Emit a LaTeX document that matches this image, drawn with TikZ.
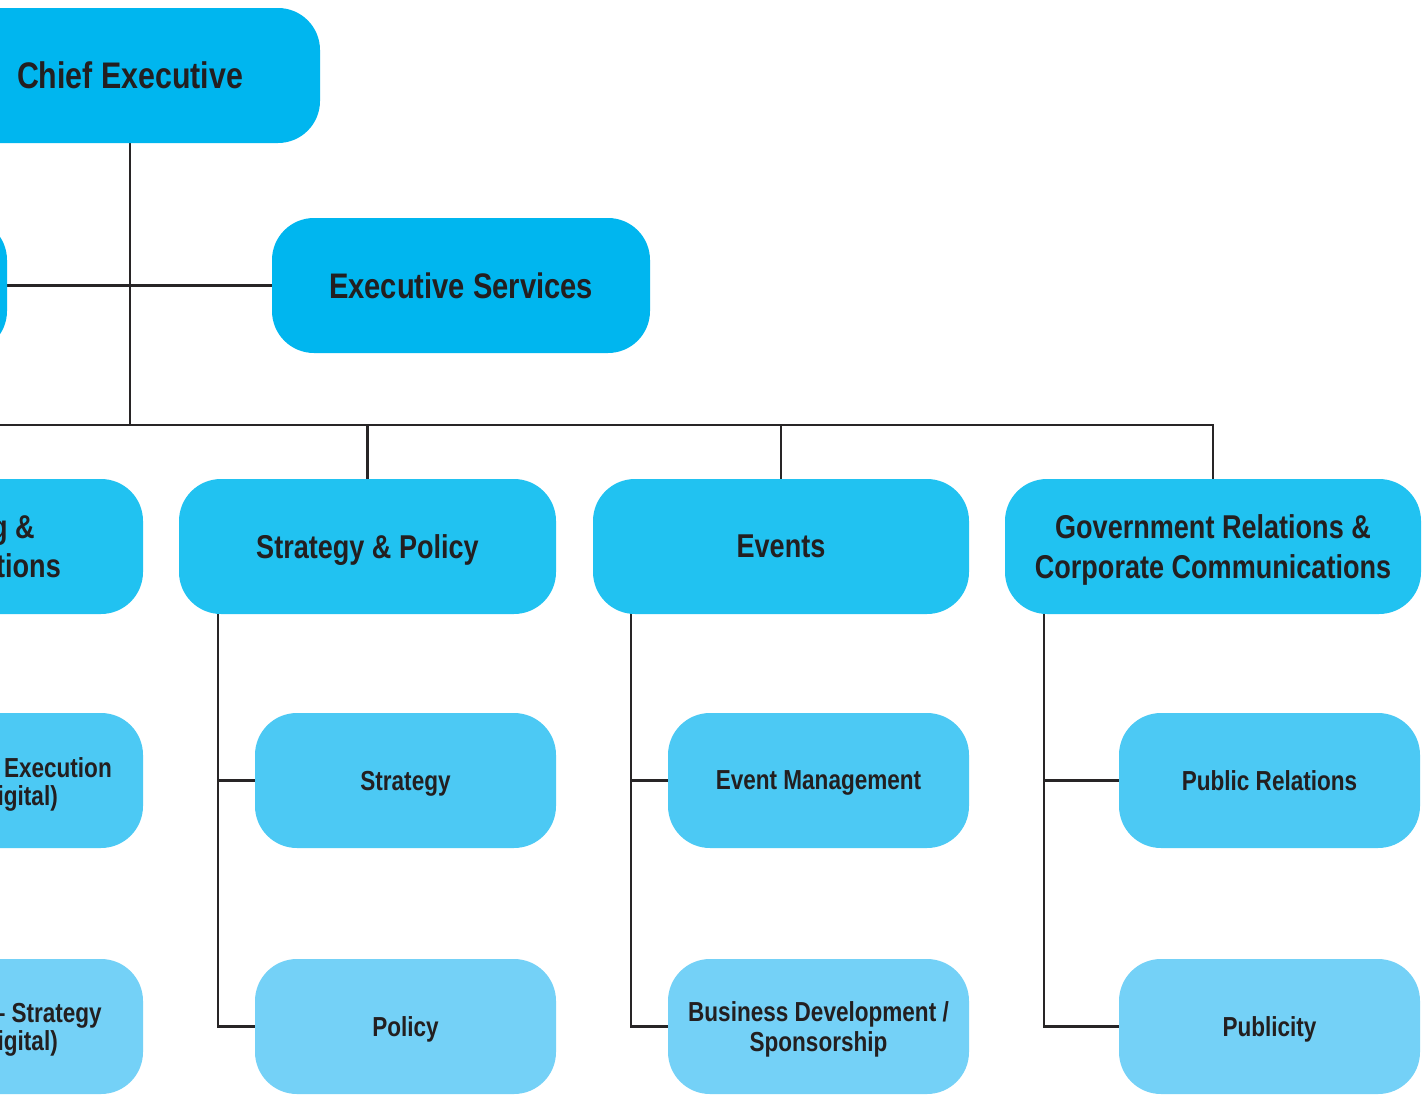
\documentclass[tikz,border=0pt]{standalone}
\usepackage{fontspec}
\newfontfamily\orgfont{Liberation Sans}[FakeStretch=0.82]
\pgfdeclarelayer{canvas}
\pgfdeclarelayer{background}
\pgfsetlayers{canvas,background,main}
\definecolor{lvA}{RGB}{0,182,239}
\definecolor{lvB}{RGB}{33,194,241}
\definecolor{lvC}{RGB}{76,201,244}
\definecolor{lvD}{RGB}{116,209,247}
\definecolor{ink}{RGB}{35,31,32}
\definecolor{wire}{RGB}{40,37,38}
\tikzset{
  unit/.style={rounded corners=42pt, minimum height=135pt, inner sep=0pt,
    text depth=0pt, align=center, text=ink, font=\orgfont\bfseries},
  topbox/.style={unit, fill=lvA, font=\orgfont\bfseries\fontsize{37}{42}\selectfont},
  headbox/.style={unit, fill=lvB, font=\orgfont\bfseries\fontsize{33}{39.5}\selectfont},
  teambox/.style={unit, fill=lvC, font=\orgfont\bfseries\fontsize{27.5}{29.5}\selectfont},
  subbox/.style={unit, fill=lvD, font=\orgfont\bfseries\fontsize{27.5}{29.5}\selectfont},
  headtxt/.style={anchor=base east, inner sep=0pt, text=ink, font=\orgfont\bfseries\fontsize{33}{39.5}\selectfont},
  teamtxt/.style={anchor=base east, inner sep=0pt, text=ink, font=\orgfont\bfseries\fontsize{27.5}{29.5}\selectfont},
  link/.style={draw=wire, line width=2.4pt}
}
\begin{document}
\begin{tikzpicture}[x=1pt,y=-1pt]
\useasboundingbox (0,0) rectangle (1427,1100);
\clip (0,0) rectangle (1427,1100);
\begin{pgfonlayer}{canvas}
  \fill[white] (0,0) rectangle (1427,1100);
\end{pgfonlayer}

% top of the chart
\node[topbox, minimum width=380pt] (ce) at (130,75.5) {Chief Executive};
\node[topbox, minimum width=378pt] (lft1) at (-182,285.5) {};
\node[topbox, minimum width=378pt, font=\orgfont\bfseries\fontsize{35.5}{40}\selectfont] (es) at (461,285.5) {Executive Services};

% divisions
\node[headbox, minimum width=377pt] (lft2) at (-45.5,546.5) {};
\node[headtxt] (lft2a) at (35,538) {g \&};
\node[headtxt] (lft2b) at (61,577) {tions};
\node[headbox, minimum width=377pt] (sp) at (367.5,546.5) {Strategy \& Policy};
\node[headbox, minimum width=376pt] (ev) at (781,546.5) {Events};
\node[headbox, minimum width=416pt] (gr) at (1213,546.5) {Government Relations \&\\Corporate Communications};

% teams
\node[teambox, minimum width=302pt] (lft3) at (-8,780.5) {};
\node[teamtxt] (lft3a) at (112,777) {Execution};
\node[teamtxt] (lft3b) at (58,805) {igital)};
\node[teambox, minimum width=301pt] (st) at (405.5,780.5) {Strategy};
\node[teambox, minimum width=301pt] (em) at (818.5,780.5) {Event Management};
\node[teambox, minimum width=301pt] (pr) at (1269.5,780.5) {Public Relations};

\node[subbox, minimum width=302pt] (lft4) at (-8,1026.5) {};
\node[teamtxt] (lft4a) at (102,1022) {– Strategy};
\node[teamtxt] (lft4b) at (58,1050) {igital)};
\node[subbox, minimum width=301pt] (po) at (405.5,1026.5) {Policy};
\node[subbox, minimum width=301pt] (bd) at (818.5,1026.5) {Business Development /\\Sponsorship};
\node[subbox, minimum width=301pt] (pu) at (1269.5,1026.5) {Publicity};

% connectors behind the boxes
\coordinate (bus) at (0,425);
\coordinate (spbr) at ([xshift=39pt]sp.west);
\coordinate (evbr) at ([xshift=38pt]ev.west);
\coordinate (grbr) at ([xshift=39pt]gr.west);
\begin{pgfonlayer}{background}
  \draw[link] (ce.center) -- (ce.center |- bus);
  \draw[link] (lft1.center) -- (es.center);
  \draw[link] (bus) -| (gr.center);
  \draw[link] (sp.center |- bus) -- (sp.center);
  \draw[link] (ev.center |- bus) -- (ev.center);
  \draw[link] (spbr) |- (po.west);
  \draw[link] (spbr |- st.west) -- (st.west);
  \draw[link] (evbr) |- (bd.west);
  \draw[link] (evbr |- em.west) -- (em.west);
  \draw[link] (grbr) |- (pu.west);
  \draw[link] (grbr |- pr.west) -- (pr.west);
\end{pgfonlayer}
\end{tikzpicture}
\end{document}
